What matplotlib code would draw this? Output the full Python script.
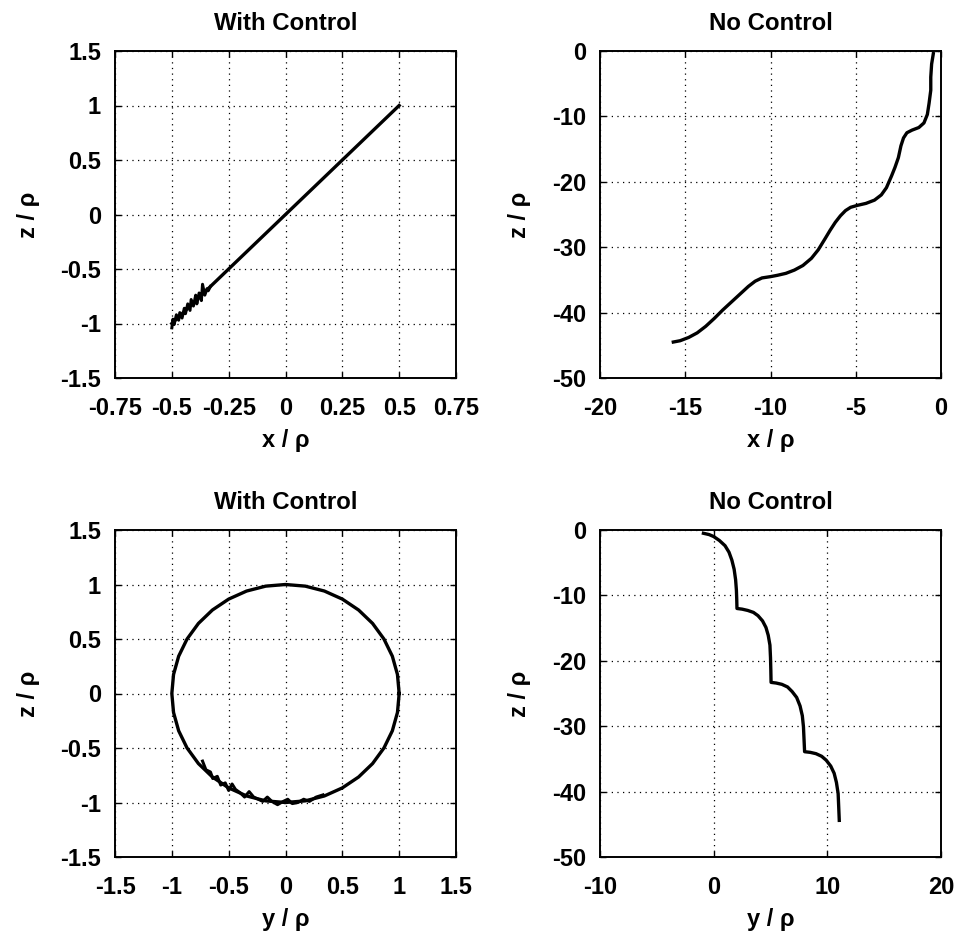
import matplotlib
matplotlib.use("Agg")
import matplotlib.pyplot as plt

plt.rcParams["font.family"] = ["Liberation Sans", "DejaVu Sans"]
plt.rcParams["font.weight"] = "bold"
plt.rcParams["axes.unicode_minus"] = False

# --- with control, x vs z: straight path plus transient wiggle near the start ---
xz_line_x = [-0.50, 0.00, 0.50]
xz_line_z = [-1.00, 0.00, 1.00]
xz_wiggle_x = [-0.500, -0.495, -0.490, -0.480, -0.470, -0.465, -0.455, -0.445,
               -0.440, -0.430, -0.420, -0.415, -0.405, -0.395, -0.390, -0.380,
               -0.370, -0.365, -0.355, -0.345, -0.340, -0.330]
xz_wiggle_z = [-1.04, -0.96, -1.01, -0.92, -0.97, -0.90, -0.95, -0.86,
               -0.91, -0.82, -0.88, -0.78, -0.84, -0.74, -0.82, -0.72,
               -0.79, -0.64, -0.74, -0.68, -0.70, -0.66]

# --- with control, y vs z: unit circle plus transient wiggle ---
yz_circle_y = [1.000, 0.985, 0.940, 0.866, 0.766, 0.643, 0.500, 0.342, 0.174, 0.000,
               -0.174, -0.342, -0.500, -0.643, -0.766, -0.866, -0.940, -0.985, -1.000,
               -0.985, -0.940, -0.866, -0.766, -0.643, -0.500, -0.342, -0.174, 0.000,
               0.174, 0.342, 0.500, 0.643, 0.766, 0.866, 0.940, 0.985, 1.000]
yz_circle_z = [0.000, 0.174, 0.342, 0.500, 0.643, 0.766, 0.866, 0.940, 0.985, 1.000,
               0.985, 0.940, 0.866, 0.766, 0.643, 0.500, 0.342, 0.174, 0.000,
               -0.174, -0.342, -0.500, -0.643, -0.766, -0.866, -0.940, -0.985, -1.000,
               -0.985, -0.940, -0.866, -0.766, -0.643, -0.500, -0.342, -0.174, 0.000]
yz_wiggle_y = [-0.73, -0.70, -0.66, -0.64, -0.60, -0.57, -0.53, -0.50, -0.47, -0.44,
               -0.40, -0.36, -0.32, -0.28, -0.24, -0.20, -0.16, -0.12, -0.07, -0.02,
               0.02, 0.06, 0.11, 0.16, 0.21, 0.27, 0.33]
yz_wiggle_z = [-0.62, -0.70, -0.72, -0.78, -0.76, -0.84, -0.82, -0.89, -0.83, -0.88,
               -0.91, -0.95, -0.90, -0.95, -0.97, -0.99, -0.95, -0.99, -1.02, -0.99,
               -0.97, -1.01, -1.00, -0.97, -0.99, -0.95, -0.93]

# --- no control, x vs z ---
nc_x = [-0.45, -0.55, -0.60, -0.60, -0.70, -0.80, -1.00, -1.30, -1.70, -2.00,
        -2.20, -2.35, -2.50, -2.70, -2.90, -3.20, -3.50, -3.90, -4.40, -4.90,
        -5.30, -5.60, -5.90, -6.20, -6.50, -6.80, -7.20, -7.60, -8.10, -8.60,
        -9.10, -9.60, -10.00, -10.50, -10.90, -11.30, -11.80, -12.30, -12.80,
        -13.30, -13.80, -14.30, -14.80, -15.30, -15.70]
nc_xz = [-0.4, -2.0, -4.0, -6.0, -8.0, -9.7, -11.0, -11.7, -12.1, -12.5,
         -13.3, -14.5, -16.3, -17.8, -19.1, -20.9, -22.0, -22.8, -23.3, -23.6,
         -23.9, -24.4, -25.2, -26.2, -27.4, -28.7, -30.4, -31.7, -32.8, -33.5,
         -34.0, -34.3, -34.5, -34.7, -35.2, -36.0, -37.2, -38.4, -39.6,
         -40.9, -42.1, -43.1, -43.8, -44.3, -44.5]

# --- no control, y vs z: staircase descent ---
nc_y = [-0.90, -0.40, 0.00, 0.50, 1.00, 1.35, 1.60, 1.80, 1.93, 2.00, 2.03, 2.05,
        2.50, 3.00, 3.50, 3.90, 4.30, 4.60, 4.80, 4.95, 5.00, 5.03, 5.05,
        5.50, 6.00, 6.50, 6.90, 7.30, 7.60, 7.80, 7.90, 7.95, 8.00,
        8.50, 9.00, 9.50, 9.90, 10.30, 10.60, 10.80, 10.95, 11.00, 11.05]
nc_yz = [-0.5, -0.7, -1.0, -1.6, -2.4, -3.4, -4.6, -6.0, -7.6, -9.2, -10.6, -12.0,
         -12.1, -12.3, -12.6, -13.1, -13.9, -14.9, -16.1, -17.6, -19.5, -21.5, -23.3,
         -23.4, -23.6, -24.0, -24.7, -25.6, -26.9, -28.4, -30.1, -32.0, -33.9,
         -34.0, -34.2, -34.6, -35.2, -36.1, -37.2, -38.6, -40.3, -42.3, -44.4]

fig = plt.figure(figsize=(9.55, 9.34), dpi=100, facecolor="white")
W, H = 955, 934


def make_axes(left_px, top_px):
    return fig.add_axes([left_px / W, 1 - (top_px + 327) / H, 341 / W, 327 / H])


def style(ax, title, xlabel, ylabel):
    ax.grid(True, color="black", linestyle=(0, (1, 3.5)), linewidth=0.9)
    ax.set_title(title, fontsize=17.3, fontweight="bold", pad=15)
    ax.set_xlabel(xlabel, fontsize=17, fontweight="bold", labelpad=6)
    ax.set_ylabel(ylabel, fontsize=17, fontweight="bold", labelpad=15)
    ax.tick_params(direction="in", length=4, width=1.0, labelsize=17,
                   top=True, right=True)
    ax.tick_params(axis="x", pad=14)
    ax.tick_params(axis="y", pad=10)
    for lab in ax.get_xticklabels() + ax.get_yticklabels():
        lab.set_fontweight("bold")
    for s in ax.spines.values():
        s.set_linewidth(1.4)


lw = 2.4

ax1 = make_axes(115, 51)
ax1.plot(xz_line_x, xz_line_z, color="black", lw=lw)
ax1.plot(xz_wiggle_x, xz_wiggle_z, color="black", lw=lw * 0.9)
ax1.set_xlim(-0.75, 0.75)
ax1.set_ylim(-1.5, 1.5)
ax1.set_xticks([-0.75, -0.5, -0.25, 0, 0.25, 0.5, 0.75])
ax1.set_xticklabels(["-0.75", "-0.5", "-0.25", "0", "0.25", "0.5", "0.75"])
ax1.set_yticks([-1.5, -1, -0.5, 0, 0.5, 1, 1.5])
ax1.set_yticklabels(["-1.5", "-1", "-0.5", "0", "0.5", "1", "1.5"])
style(ax1, "With Control", "x / ρ", "z / ρ")

ax2 = make_axes(600, 51)
ax2.plot(nc_x, nc_xz, color="black", lw=lw)
ax2.set_xlim(-20, 0)
ax2.set_ylim(-50, 0)
ax2.set_xticks([-20, -15, -10, -5, 0])
ax2.set_yticks([-50, -40, -30, -20, -10, 0])
style(ax2, "No Control", "x / ρ", "z / ρ")

ax3 = make_axes(115, 530)
ax3.plot(yz_circle_y, yz_circle_z, color="black", lw=lw)
ax3.plot(yz_wiggle_y, yz_wiggle_z, color="black", lw=lw * 0.9)
ax3.set_xlim(-1.5, 1.5)
ax3.set_ylim(-1.5, 1.5)
ax3.set_xticks([-1.5, -1, -0.5, 0, 0.5, 1, 1.5])
ax3.set_xticklabels(["-1.5", "-1", "-0.5", "0", "0.5", "1", "1.5"])
ax3.set_yticks([-1.5, -1, -0.5, 0, 0.5, 1, 1.5])
ax3.set_yticklabels(["-1.5", "-1", "-0.5", "0", "0.5", "1", "1.5"])
style(ax3, "With Control", "y / ρ", "z / ρ")

ax4 = make_axes(600, 530)
ax4.plot(nc_y, nc_yz, color="black", lw=lw)
ax4.set_xlim(-10, 20)
ax4.set_ylim(-50, 0)
ax4.set_xticks([-10, 0, 10, 20])
ax4.set_yticks([-50, -40, -30, -20, -10, 0])
style(ax4, "No Control", "y / ρ", "z / ρ")

fig.savefig("out.png", dpi=100)
